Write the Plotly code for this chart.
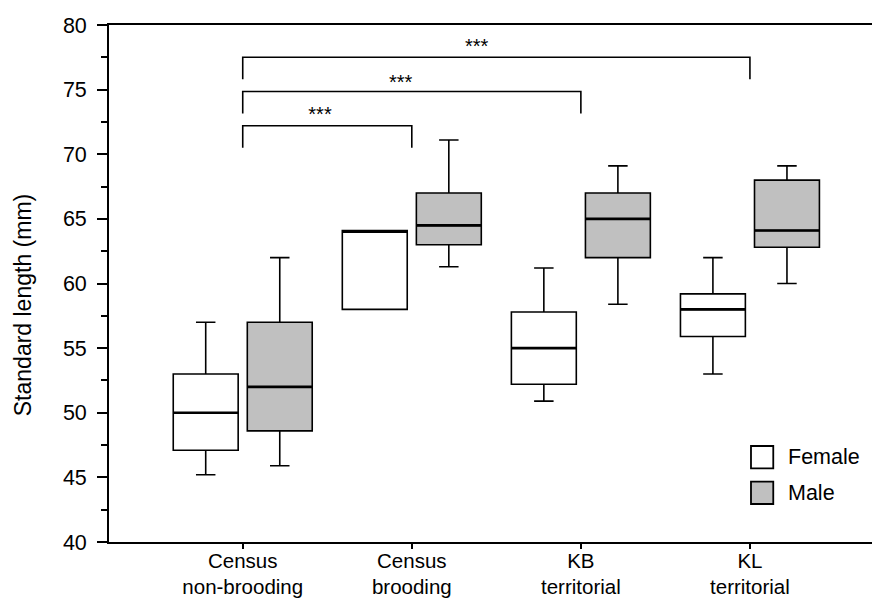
import plotly.graph_objects as go

# ---- data ----
categories = ["Census<br>non-brooding", "Census<br>brooding", "KB<br>territorial", "KL<br>territorial"]
cat_pos = [0, 1, 2, 3]

female_lower = [45.2, 58.0, 50.9, 53.0]
female_q1 = [47.1, 58.0, 52.2, 55.9]
female_median = [50.0, 64.0, 55.0, 58.0]
female_q3 = [53.0, 64.1, 57.8, 59.2]
female_upper = [57.0, 64.1, 61.2, 62.0]

male_lower = [45.9, 61.3, 58.4, 60.0]
male_q1 = [48.6, 63.0, 62.0, 62.8]
male_median = [52.0, 64.5, 65.0, 64.1]
male_q3 = [57.0, 67.0, 67.0, 68.0]
male_upper = [62.0, 71.1, 69.1, 69.1]

# significance brackets: from group 0 to group j
bracket_from = [0, 0, 0]
bracket_to = [1, 2, 3]
bracket_y = [72.2, 74.85, 77.5]
bracket_drop = [70.5, 73.15, 75.8]
bracket_label = ["***", "***", "***"]
label_x = [0.457, 0.934, 1.384]
label_y = [72.95, 75.42, 78.2]

yticks = [40, 45, 50, 55, 60, 65, 70, 75, 80]

# ---- style ----
FONT = "Liberation Sans, Arial, sans-serif"
OFF = 0.219
BW = 0.384
GRAY = "#c0c0c0"
FS = 21.5
XFS = 20.5

fig = go.Figure()

def add_box(offset, q1, med, q3, lo, hi, fill, name):
    xs = [c + offset for c in cat_pos]
    fig.add_trace(go.Box(
        x=xs, q1=q1, median=med, q3=q3, lowerfence=lo, upperfence=hi,
        width=BW, whiskerwidth=0.3, fillcolor=fill,
        line=dict(color="black", width=1.6), name=name, showlegend=False,
        boxpoints=False, hoverinfo="skip",
    ))
    # thicker median lines
    mx, my = [], []
    for x, m in zip(xs, med):
        mx += [x - BW / 2, x + BW / 2, None]
        my += [m, m, None]
    fig.add_trace(go.Scatter(x=mx, y=my, mode="lines",
                             line=dict(color="black", width=2.6),
                             showlegend=False, hoverinfo="skip"))

add_box(-OFF, female_q1, female_median, female_q3, female_lower, female_upper, "white", "Female")
add_box(OFF, male_q1, male_median, male_q3, male_lower, male_upper, GRAY, "Male")

# brackets
for a, b, yb, yd in zip(bracket_from, bracket_to, bracket_y, bracket_drop):
    xa, xb = cat_pos[a], cat_pos[b]
    fig.add_trace(go.Scatter(x=[xa, xa, xb, xb], y=[yd, yb, yb, yd], mode="lines",
                             line=dict(color="black", width=1.6),
                             showlegend=False, hoverinfo="skip"))
fig.add_trace(go.Scatter(x=label_x, y=label_y, mode="text", text=bracket_label,
                         textfont=dict(family=FONT, size=20, color="black"),
                         textposition="middle center",
                         showlegend=False, hoverinfo="skip"))

# manual legend (paper coordinates)
legend_items = [("Female", "white", 0.1857, 0.1426), ("Male", GRAY, 0.1166, 0.0735)]
for label, fill, y1, y0 in legend_items:
    fig.add_shape(type="rect", xref="paper", yref="paper", x0=0.8414, x1=0.8706,
                  y0=y0, y1=y1, fillcolor=fill, line=dict(color="black", width=1.8))
    fig.add_annotation(xref="paper", yref="paper", x=0.8869, y=(y0 + y1) / 2,
                       text=label, showarrow=False, xanchor="left", yanchor="middle",
                       font=dict(family=FONT, size=FS, color="black"))

# y-axis title
fig.add_annotation(xref="paper", yref="paper", x=-0.1127, y=0.458,
                   text="Standard length (mm)", textangle=-90, showarrow=False,
                   xanchor="center", yanchor="middle",
                   font=dict(family=FONT, size=23, color="black"))

fig.update_layout(
    width=872, height=598,
    margin=dict(l=109, r=0, t=25, b=56, autoexpand=False),
    paper_bgcolor="white", plot_bgcolor="white",
    boxmode="overlay",
    font=dict(family=FONT, size=FS, color="black"),
    xaxis=dict(
        range=[-0.791, 3.722], tickmode="array", tickvals=cat_pos, ticktext=categories,
        showline=True, linecolor="black", linewidth=1.8, mirror=True,
        ticks="outside", ticklen=5, tickwidth=1.6, tickcolor="black",
        ticklabelstandoff=-6, automargin=False,
        showgrid=False, zeroline=False, tickfont=dict(family=FONT, size=XFS),
    ),
    yaxis=dict(
        range=[40, 80], tickmode="array", tickvals=yticks,
        showline=True, linecolor="black", linewidth=1.8,
        ticks="outside", ticklen=10, tickwidth=1.6, tickcolor="black",
        minor=dict(dtick=2.5, ticks="outside", ticklen=6, tickwidth=1.6, tickcolor="black", showgrid=False),
        ticklabelstandoff=6, automargin=False,
        showgrid=False, zeroline=False, tickfont=dict(family=FONT, size=FS),
    ),
)

fig.write_html("out.html")
